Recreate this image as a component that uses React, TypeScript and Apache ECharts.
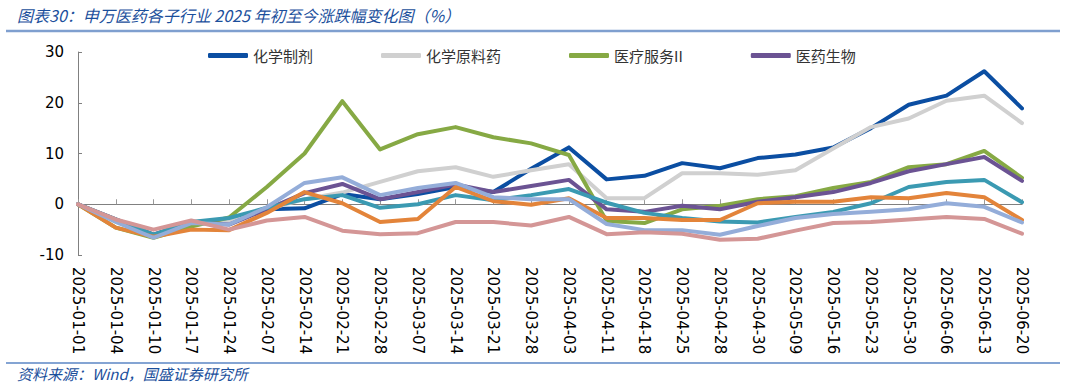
import React, { useEffect, useRef } from "react";
import * as echarts from "echarts";

const categories = ["2025-01-01","2025-01-04","2025-01-10","2025-01-17","2025-01-24","2025-02-07","2025-02-14","2025-02-21","2025-02-28","2025-03-07","2025-03-14","2025-03-21","2025-03-28","2025-04-03","2025-04-11","2025-04-18","2025-04-25","2025-04-28","2025-04-30","2025-05-09","2025-05-16","2025-05-23","2025-05-30","2025-06-06","2025-06-13","2025-06-20"];

const chemPrep = [0,-3.2,-6.2,-3.6,-3.0,-1.0,-0.8,2.0,1.0,2.0,3.4,2.4,7.0,11.2,4.9,5.6,8.1,7.1,9.1,9.8,11.2,15.0,19.6,21.4,26.2,18.9];
const chemRaw = [0,-3.0,-6.0,-3.5,-3.2,-1.0,1.0,2.3,4.4,6.5,7.3,5.4,6.7,7.9,1.2,1.2,6.1,6.1,5.8,6.7,11.0,15.2,16.9,20.4,21.4,16.0];
const medService = [0,-4.6,-6.6,-4.4,-2.6,3.4,10.0,20.3,10.8,13.8,15.2,13.2,12.0,9.7,-3.3,-3.7,-1.0,-0.3,1.0,1.6,3.2,4.4,7.3,7.9,10.5,5.2];
const bio = [0,-3.0,-6.0,-3.5,-4.0,-1.0,2.2,4.0,1.0,2.4,3.9,2.4,3.6,4.8,-1.0,-1.5,-0.3,-1.0,0.5,1.4,2.4,4.2,6.5,7.9,9.3,4.6];
const tealSeries = [0,-3.0,-6.0,-3.5,-2.7,-0.7,1.0,1.8,-0.7,0,1.8,0.8,1.8,3.0,0.3,-1.7,-2.7,-3.4,-3.6,-2.5,-1.5,0.2,3.4,4.4,4.8,0.4];
const orangeSeries = [0,-4.6,-6.4,-5.0,-5.1,-1.7,2.4,0.2,-3.5,-2.9,3.4,0.6,-0.1,1.2,-2.7,-2.7,-3.1,-3.1,0.2,0.5,0.5,1.4,1.2,2.2,1.4,-3.1];
const lightBlueSeries = [0,-3.5,-6.6,-3.7,-4.0,-0.6,4.2,5.3,1.8,3.2,4.2,1.4,1.0,1.0,-3.9,-5.1,-5.1,-6.0,-4.3,-2.7,-1.9,-1.5,-1.0,0.2,-0.5,-3.6];
const pinkSeries = [0,-3.0,-5.0,-3.2,-5.0,-3.2,-2.5,-5.2,-5.9,-5.7,-3.5,-3.5,-4.2,-2.5,-5.9,-5.5,-5.8,-7.0,-6.8,-5.2,-3.7,-3.5,-3.0,-2.5,-2.9,-5.8];

const legendNames = ["化学制剂", "化学原料药", "医疗服务II", "医药生物"];
const seriesList = [
  { name: "化学制剂", data: chemPrep, color: "#0B4EA2" },
  { name: "化学原料药", data: chemRaw, color: "#D0D0D0" },
  { name: "医疗服务II", data: medService, color: "#86A944" },
  { name: "医药生物", data: bio, color: "#6B5393" },
  { name: "s5", data: tealSeries, color: "#3B9AB2" },
  { name: "s6", data: orangeSeries, color: "#E3843A" },
  { name: "s7", data: lightBlueSeries, color: "#94ADD9" },
  { name: "s8", data: pinkSeries, color: "#D49696" },
];

const yTicks = { min: -10, max: 30, interval: 10 };
const titleText = "图表30：申万医药各子行业 2025 年初至今涨跌幅变化图（%）";
const sourceText = "资料来源：Wind，国盛证券研究所";

export default function App() {
  const ref = useRef<HTMLDivElement>(null);
  useEffect(() => {
    if (!ref.current) return;
    const chart = echarts.init(ref.current, null, { renderer: "svg" });
    const option: any = {
      animation: false,
      backgroundColor: "#ffffff",
      grid: { left: 78, right: 43, top: 52, bottom: 133, containLabel: false },
      legend: {
        data: legendNames,
        left: 203,
        top: 43,
        icon: "roundRect",
        itemWidth: 40,
        itemHeight: 5,
        itemGap: 68,
        textStyle: { fontFamily: "Noto Sans CJK SC", fontSize: 15, color: "#333" },
      },
      xAxis: [
        {
          type: "category",
          data: categories,
          boundaryGap: false,
          position: "bottom",
          axisLine: { show: false, onZero: false },
          axisTick: { show: false },
          axisLabel: {
            rotate: -90,
            margin: 12,
            interval: 0,
            fontFamily: "DejaVu Sans",
            fontSize: 15,
            color: "#000",
          },
          splitLine: { show: false },
        },
        {
          type: "category",
          data: categories,
          boundaryGap: false,
          position: "top",
          axisLine: { show: true, onZero: true, lineStyle: { color: "#808080", width: 1 } },
          axisTick: { show: true, inside: false, length: 5, interval: 0, lineStyle: { color: "#999" } },
          axisLabel: { show: false },
          splitLine: { show: false },
        },
      ],
      yAxis: {
        type: "value",
        min: yTicks.min,
        max: yTicks.max,
        interval: yTicks.interval,
        axisLine: { show: true, lineStyle: { color: "#808080", width: 1 } },
        axisTick: { show: true, inside: true, length: 4, lineStyle: { color: "#808080" } },
        axisLabel: { margin: 14, fontFamily: "DejaVu Sans", fontSize: 15, color: "#000" },
        splitLine: { show: false },
      },
      series: seriesList.map((s) => ({
        name: s.name,
        type: "line",
        data: s.data,
        xAxisIndex: 0,
        symbol: "none",
        color: s.color,
        lineStyle: { width: 4, color: s.color, cap: "round", join: "round" },
        itemStyle: { color: s.color },
        emphasis: { disabled: true },
      })),
      graphic: [
        {
          type: "text",
          left: 17,
          top: 7,
          style: {
            text: titleText,
            fontFamily: "Noto Sans CJK SC",
            fontStyle: "italic",
            fontSize: 16,
            fill: "#1B4F9C",
          },
        },
        {
          type: "line",
          shape: { x1: 6, y1: 31, x2: 1060, y2: 31 },
          style: { stroke: "#7F9FCF", lineWidth: 2.5 },
        },
        {
          type: "line",
          shape: { x1: 6, y1: 363, x2: 1060, y2: 363 },
          style: { stroke: "#5B86C4", lineWidth: 1.5 },
        },
        {
          type: "text",
          left: 17,
          top: 366,
          style: {
            text: sourceText,
            fontFamily: "Noto Sans CJK SC",
            fontStyle: "italic",
            fontSize: 15,
            fill: "#1B4F9C",
          },
        },
      ],
    };
    chart.setOption(option);
    return () => chart.dispose();
  }, []);
  return (
    <div
      ref={ref}
      style={{ position: "fixed", left: 0, top: 0, width: 1065, height: 388, background: "#fff" }}
    />
  );
}
